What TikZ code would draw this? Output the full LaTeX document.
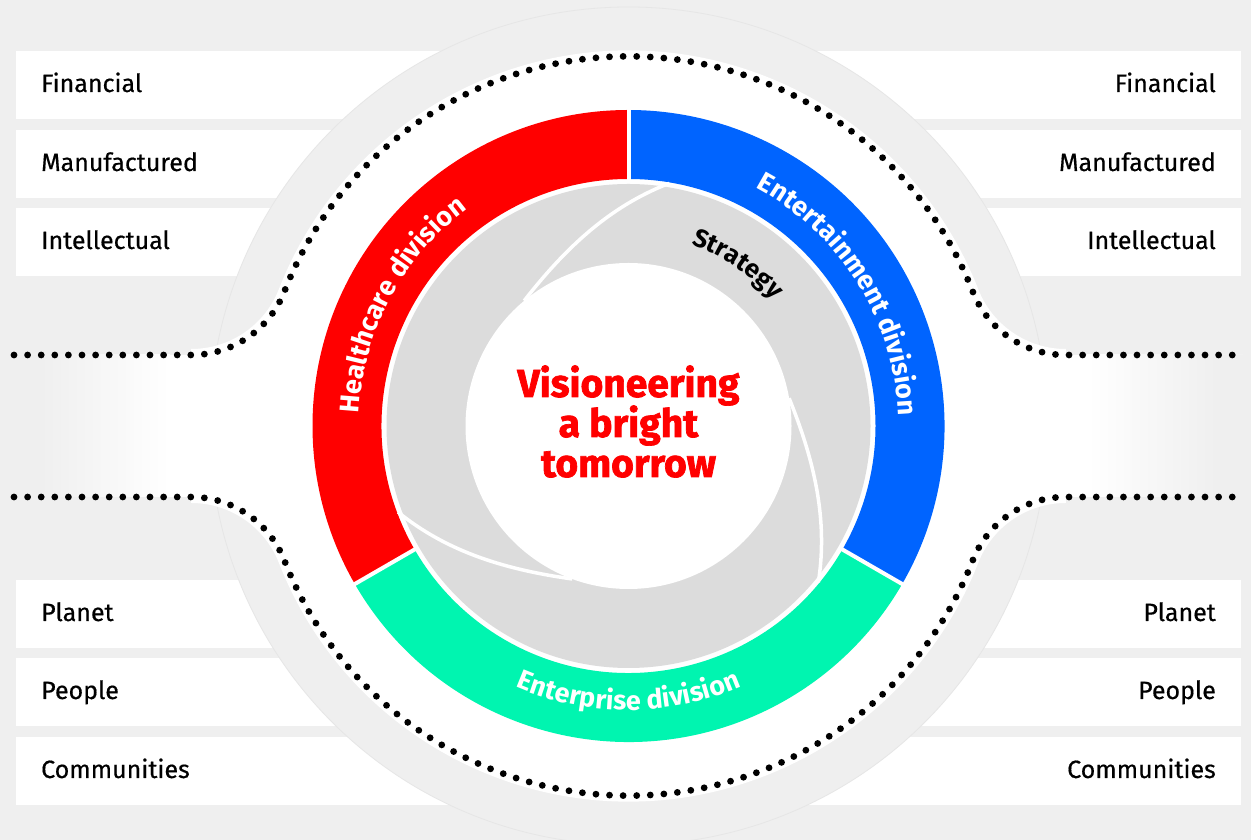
\documentclass[tikz,border=0pt]{standalone}
\usepackage{fontspec}
\setmainfont{Fira Sans}
\newfontfamily\lblfam{Fira Sans}[FakeBold=0.5]
\newfontfamily\heavyfam{Fira Sans}[FakeBold=1.8]
\newfontfamily\ringfam{Fira Sans}[LetterSpace=2.5]
\usetikzlibrary{decorations.text}
\definecolor{bggray}{HTML}{EFEFEF}
\definecolor{diskgray}{HTML}{DCDCDC}
\definecolor{ringred}{HTML}{FF0000}
\definecolor{ringblue}{HTML}{0064FF}
\definecolor{ringgreen}{HTML}{00F5B0}
\definecolor{edgegray}{HTML}{E6E6E6}
\newcommand\ringfont{\bfseries\fontsize{27}{27}\selectfont}
\newcommand\stratfont{\bfseries\fontsize{25.5}{25.5}\selectfont}
\begin{document}
\begin{tikzpicture}[x=1pt,y=1pt,
  strip/.style={fill=white},
  lbl/.style={font=\lblfam\fontsize{25}{25}\selectfont, text=black, inner sep=0pt},
  dotline/.style={line width=6.8pt, line cap=round, dash pattern=on 0pt off 13.6pt},
  bladeline/.style={white, line width=3.5pt},
  gapline/.style={white, line width=4pt},
  centertext/.style={font=\heavyfam\bfseries\fontsize{39}{39}\selectfont, text=ringred, inner sep=0pt}
]
\useasboundingbox (0,0) rectangle (1251,840);
\fill[bggray] (0,0) rectangle (1251,840);
\coordinate (C) at (628.5,414);

% strips
\fill[strip] (16,721) rectangle (1241,789);
\fill[strip] (16,642) rectangle (1241,710);
\fill[strip] (16,564) rectangle (1241,632);
\fill[strip] (16,192) rectangle (1241,260);
\fill[strip] (16,114) rectangle (1241,182);
\fill[strip] (16,35) rectangle (1241,103);

% big circle
\fill[bggray] (C) circle[radius=419pt];
\draw[edgegray, line width=0.8pt] (C) circle[radius=419pt];

% white region
\fill[white] (14,485) -- (191.3,485) arc[start angle=270, end angle=338.64, radius=100pt]
  arc[start angle=158.65, end angle=21.35, radius=369.5pt]
  arc[start angle=201.36, end angle=270, radius=100pt] -- (1243,485)
  -- (1243,343) -- (1065.7,343)
  arc[start angle=90, end angle=158.64, radius=100pt]
  arc[start angle=338.65, end angle=201.35, radius=369.5pt]
  arc[start angle=21.36, end angle=90, radius=100pt] -- (14,343) -- cycle;
\draw[white, line width=12pt] (191.3,485) arc[start angle=270, end angle=338.64, radius=100pt]
  arc[start angle=158.65, end angle=21.35, radius=369.5pt]
  arc[start angle=201.36, end angle=270, radius=100pt];
\draw[white, line width=12pt] (191.3,343) arc[start angle=90, end angle=21.36, radius=100pt]
  arc[start angle=201.35, end angle=338.65, radius=369.5pt]
  arc[start angle=158.64, end angle=90, radius=100pt];
\fill[bggray] (0,343) rectangle (14,485);
\fill[bggray] (1243,343) rectangle (1251,485);
\shade[left color=bggray, right color=white] (40,343) rectangle (170,485);
\fill[bggray] (14,343) rectangle (40,485);
\shade[left color=white, right color=bggray] (1087,343) rectangle (1217,485);
\fill[bggray] (1217,343) rectangle (1243,485);

% dotted lines
\draw[dotline] (14,485) -- (191.3,485) arc[start angle=270, end angle=338.64, radius=100pt]
  arc[start angle=158.65, end angle=21.35, radius=369.5pt]
  arc[start angle=201.36, end angle=270, radius=100pt] -- (1243,485);
\draw[dotline] (14,343) -- (191.3,343) arc[start angle=90, end angle=21.36, radius=100pt]
  arc[start angle=201.35, end angle=338.65, radius=369.5pt]
  arc[start angle=158.64, end angle=90, radius=100pt] -- (1243,343);

% ring
\fill[ringred] ([shift={(90:316pt)}]C) arc[start angle=90, end angle=210, radius=316pt]
  -- ([shift={(210:247pt)}]C) arc[start angle=210, end angle=90, radius=247pt] -- cycle;
\fill[ringgreen] ([shift={(210:316pt)}]C) arc[start angle=210, end angle=330, radius=316pt]
  -- ([shift={(330:247pt)}]C) arc[start angle=330, end angle=210, radius=247pt] -- cycle;
\fill[ringblue] ([shift={(330:316pt)}]C) arc[start angle=330, end angle=450, radius=316pt]
  -- ([shift={(90:247pt)}]C) arc[start angle=450, end angle=330, radius=247pt] -- cycle;
\foreach \a in {90,210,330} {
  \draw[gapline] ([shift={(\a:240pt)}]C) -- ([shift={(\a:320pt)}]C);
}

% strategy disk
\fill[diskgray] (C) circle[radius=242pt];
\fill[white] (C) circle[radius=163pt];
\foreach \k in {0,120,240} {
  \draw[bladeline] ([shift={(129.8-\k:163pt)}]C) .. controls +(52-\k:65pt) and +(201-\k:65pt) .. ([shift={(80.5-\k:246pt)}]C);
}

% ring texts
\path[decorate, decoration={text along path, text align=center, text color=white,
  text={|\ringfont|Healthcare division}}]
  ([shift={(197:270pt)}]C) arc[start angle=197, end angle=107, radius=270pt];
\path[decorate, decoration={text along path, text align=center, text color=white,
  text={|\ringfont|Entertainment division}}]
  ([shift={(77:270pt)}]C) arc[start angle=77, end angle=-13, radius=270pt];
\path[decorate, decoration={text along path, text align=center, text color=white,
  text={|\ringfont|Enterprise division}}]
  ([shift={(225:284pt)}]C) arc[start angle=225, end angle=315, radius=284pt];
\path[decorate, decoration={text along path, text align=center, text color=black,
  text={|\stratfont|Strategy}}]
  ([shift={(91:192pt)}]C) arc[start angle=91, end angle=21, radius=192pt];

% center text
\node[centertext, anchor=base] (v1) at (628.5,443) {Visioneering};
\node[centertext, anchor=base] (v2) at (628.5,403) {a bright};
\node[centertext, anchor=base] (v3) at (628.5,363) {tomorrow};

% labels
\node[lbl, anchor=base west] (lf) at (41,748) {Financial};
\node[lbl, anchor=base west] (lm) at (41,669) {Manufactured};
\node[lbl, anchor=base west] (li) at (41,591) {Intellectual};
\node[lbl, anchor=base west] (lp) at (41,219) {Planet};
\node[lbl, anchor=base west] (lpe) at (41,141) {People};
\node[lbl, anchor=base west] (lc) at (41,62) {Communities};
\node[lbl, anchor=base east] (rf) at (1216,748) {Financial};
\node[lbl, anchor=base east] (rm) at (1216,669) {Manufactured};
\node[lbl, anchor=base east] (ri) at (1216,591) {Intellectual};
\node[lbl, anchor=base east] (rp) at (1216,219) {Planet};
\node[lbl, anchor=base east] (rpe) at (1216,141) {People};
\node[lbl, anchor=base east] (rc) at (1216,62) {Communities};
\end{tikzpicture}
\end{document}
